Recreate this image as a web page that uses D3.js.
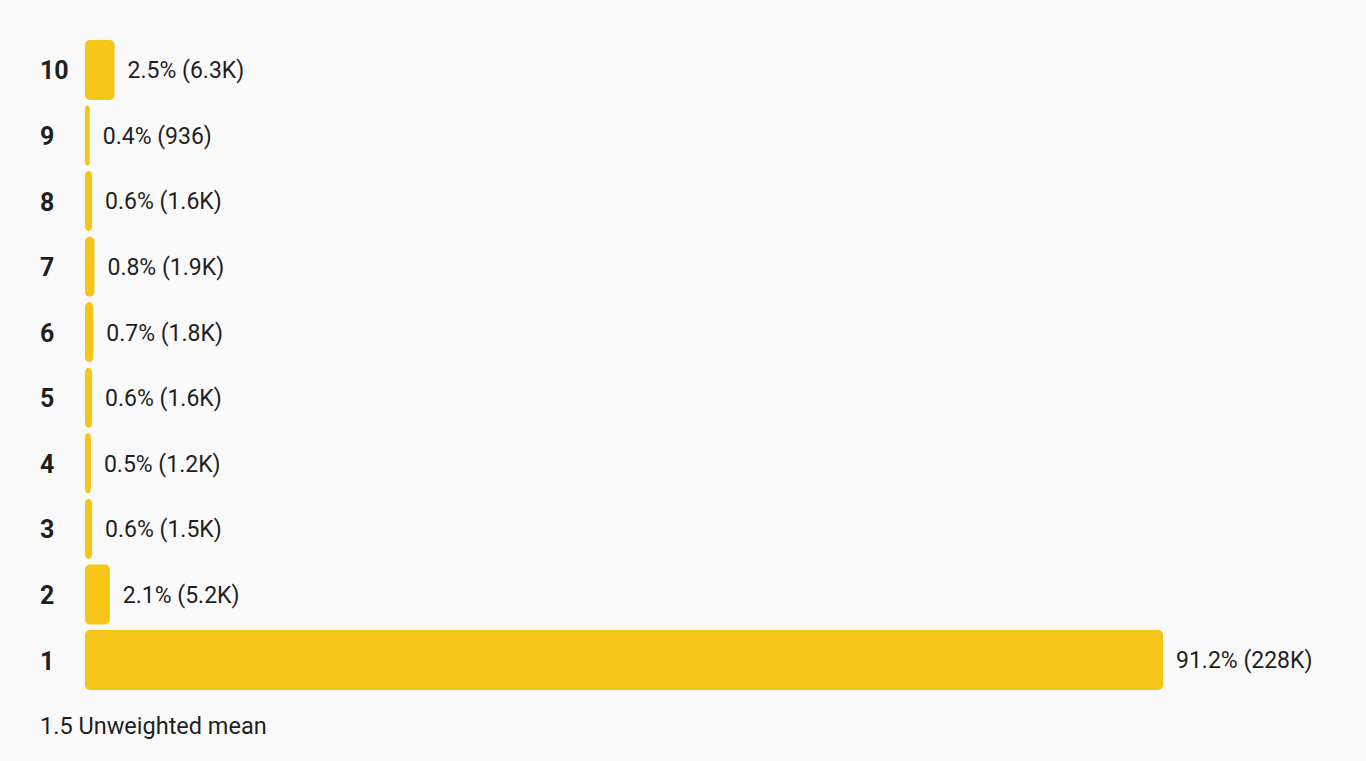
<!DOCTYPE html>
<html>
<head>
<meta charset="utf-8">
<script src="https://cdn.jsdelivr.net/npm/d3@7"></script>
<style>
  html, body { margin: 0; padding: 0; background: #fafafa; }
  svg { display: block; font-family: Roboto, "Noto Sans", sans-serif; }
</style>
</head>
<body>
<svg id="chart" width="1366" height="761"></svg>
<script>
// ratings shown top to bottom
const ratings = ['10', '9', '8', '7', '6', '5', '4', '3', '2', '1'];
const percents = [2.5, 0.4, 0.6, 0.8, 0.7, 0.6, 0.5, 0.6, 2.1, 91.2];
const counts = ['6.3K', '936', '1.6K', '1.9K', '1.8K', '1.6K', '1.2K', '1.5K', '5.2K', '228K'];
const meanValue = '1.5';
const meanLabel = 'Unweighted mean';

const svg = d3.select('#chart');
const textColor = '#1f1f1f';

const rows = ratings.map((r, i) => ({ rating: r, pct: percents[i], count: counts[i] }));

const yScale = d3.scaleBand()
  .domain(ratings)
  .range([40, 690])
  .paddingInner(0.085)
  .paddingOuter(0);

const xScale = d3.scaleLinear()
  .domain([0, d3.max(percents)])
  .range([85, 1163]);

// rating labels on the left
const yAxis = d3.axisLeft(yScale).tickSize(0);
const yAxisGroup = svg.append('g')
  .attr('transform', `translate(${xScale(0)}, 0)`)
  .call(yAxis);
yAxisGroup.select('.domain').remove();
yAxisGroup.selectAll('text')
  .attr('x', -45)
  .attr('dy', '0.38em')
  .attr('text-anchor', 'start')
  .attr('font-size', 25)
  .attr('font-weight', 700)
  .attr('font-family', 'Roboto, "Noto Sans", sans-serif')
  .attr('fill', textColor);

svg.selectAll('.bar')
  .data(rows)
  .enter()
  .append('rect')
  .attr('class', 'bar')
  .attr('x', xScale(0))
  .attr('y', d => yScale(d.rating))
  .attr('width', d => xScale(d.pct) - xScale(0))
  .attr('height', yScale.bandwidth())
  .attr('rx', 5)
  .attr('ry', 5)
  .attr('fill', '#f5c518');

svg.selectAll('.value')
  .data(rows)
  .enter()
  .append('text')
  .attr('class', 'value')
  .attr('x', d => xScale(d.pct) + 13)
  .attr('y', d => yScale(d.rating) + yScale.bandwidth() / 2)
  .attr('dy', '0.36em')
  .attr('font-size', 23)
  .attr('fill', textColor)
  .text(d => `${d.pct}% (${d.count})`);

svg.append('text')
  .attr('x', 40)
  .attr('y', 734)
  .attr('font-size', 23.5)
  .attr('fill', textColor)
  .text(`${meanValue} ${meanLabel}`);
</script>
</body>
</html>
